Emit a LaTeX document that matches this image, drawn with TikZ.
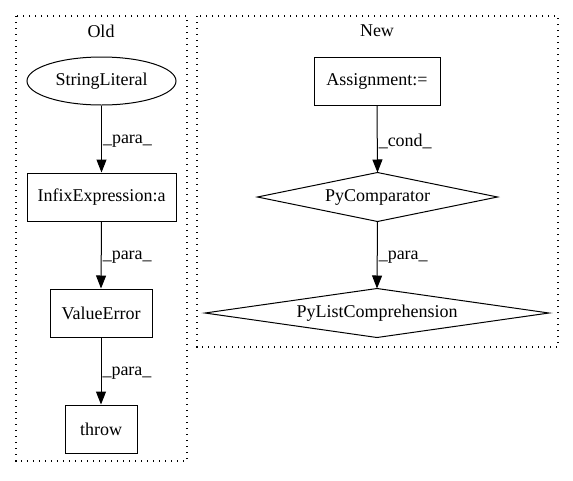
\documentclass[tikz,border=0pt]{standalone}
\usepackage{fontspec}
\setmainfont{Liberation Serif}
\usetikzlibrary{arrows.meta,shapes.geometric}
\begin{document}
\begin{tikzpicture}[x=1pt,y=-1pt,
  font=\fontsize{18}{21}\selectfont,
  every path/.style={line width=1pt},
  cluster/.style={draw,line width=1.3pt,dash pattern=on 1.3pt off 4.7pt},
  boxnode/.style={draw,rectangle,minimum height=48pt,inner sep=0pt},
  ellnode/.style={draw,ellipse,minimum width=149pt,minimum height=48pt,inner sep=0pt},
  dianode/.style={rectangle,minimum height=48pt,inner sep=0pt},
  conn/.style={-{Triangle[length=13pt,width=10pt]}},
  elabel/.style={right,inner sep=1pt,yshift=-2pt,font=\fontsize{18}{21}\selectfont}
]
\useasboundingbox (0,0) rectangle (573,480);
\fill[white] (0,0) rectangle (573,480);
% clusters
\draw[cluster] (16,16) rectangle (187,461);
\draw[cluster] (197,16) rectangle (558,347);
\node (oldlabel) at (101,31) {Old};
\node (newlabel) at (377,31) {New};
% Old nodes
\node[ellnode] (sl) at (101.5,81) {StringLiteral};
\node[boxnode,minimum width=149pt] (infix) at (101.5,197) {InfixExpression:a};
\node[boxnode,minimum width=102pt] (ve) at (101,313) {ValueError};
\node[boxnode,minimum width=72pt] (thr) at (101,429) {throw};
% New nodes
\node[boxnode,minimum width=126pt] (asg) at (377,81) {Assignment:=};
\node[dianode,minimum width=239pt] (pyc) at (377.5,197) {PyComparator};
\draw (pyc.north) -- (pyc.east) -- (pyc.south) -- (pyc.west) -- cycle;
\node[dianode,minimum width=343pt] (plc) at (377,313) {PyListComprehension};
\draw (plc.north) -- (plc.east) -- (plc.south) -- (plc.west) -- cycle;
% connectors
\draw[conn] (sl.south) -- node[elabel,pos=0.5] {\_para\_} (infix.north);
\draw[conn] (infix.south) -- node[elabel,pos=0.5] {\_para\_} (ve.north);
\draw[conn] (ve.south) -- node[elabel,pos=0.5] {\_para\_} (thr.north);
\draw[conn] (asg.south) -- node[elabel,pos=0.5] {\_cond\_} (pyc.north);
\draw[conn] (pyc.south) -- node[elabel,pos=0.5] {\_para\_} (plc.north);
\end{tikzpicture}
\end{document}
